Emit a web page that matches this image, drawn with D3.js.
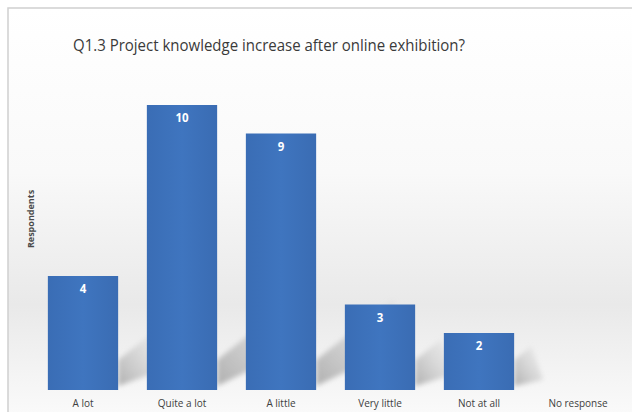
<!DOCTYPE html>
<html>
<head>
<meta charset="utf-8">
<script src="https://cdn.jsdelivr.net/npm/d3@7"></script>
<style>
  body { margin: 0; background: #fff; }
  svg { display: block; }
</style>
</head>
<body>
<svg class="entry-point"></svg>
<script>
/* chart data */
const categories = ['A lot', 'Quite a lot', 'A little', 'Very little', 'Not at all', 'No response']
const counts = [4, 10, 9, 3, 2, 0]
const title = 'Q1.3 Project knowledge increase after online exhibition?'
const yLabel = 'Respondents'

const W = 632, H = 412
const svg = d3.select('.entry-point').attr('width', W).attr('height', H)

const defs = svg.append('defs')
const bg = defs.append('linearGradient').attr('id', 'bg')
  .attr('x1', 0).attr('y1', 0).attr('x2', 0).attr('y2', 1)
bg.append('stop').attr('offset', '0%').attr('stop-color', '#ffffff')
bg.append('stop').attr('offset', '40%').attr('stop-color', '#f9f9f9')
bg.append('stop').attr('offset', '72%').attr('stop-color', '#e9e9e9')
bg.append('stop').attr('offset', '100%').attr('stop-color', '#fbfbfb')

const barGrad = defs.append('linearGradient').attr('id', 'bar')
  .attr('x1', 0).attr('y1', 0).attr('x2', 1).attr('y2', 0)
barGrad.append('stop').attr('offset', '0%').attr('stop-color', '#3a6db5')
barGrad.append('stop').attr('offset', '50%').attr('stop-color', '#3f75bf')
barGrad.append('stop').attr('offset', '100%').attr('stop-color', '#3a6cb3')

const shadowGrad = defs.append('linearGradient').attr('id', 'shadow')
  .attr('x1', 0).attr('y1', 1).attr('x2', 1).attr('y2', 0)
shadowGrad.append('stop').attr('offset', '0%').attr('stop-color', '#a8a8a8').attr('stop-opacity', 0.9)
shadowGrad.append('stop').attr('offset', '100%').attr('stop-color', '#d0d0d0').attr('stop-opacity', 0.1)
defs.append('filter').attr('id', 'blur').append('feGaussianBlur').attr('stdDeviation', 2.5)

// chart frame
svg.append('rect').attr('x', 8).attr('y', 8).attr('width', W).attr('height', H)
  .attr('fill', 'url(#bg)').attr('stroke', '#d0d0d0').attr('stroke-width', 1.5)

const x = d3.scaleBand().domain(categories).range([33.5, 627.5]).paddingInner(0.29).paddingOuter(0.145)
const y = d3.scaleLinear().domain([0, 10]).range([390, 105])

// floor shadows
const sh = svg.append('g').attr('filter', 'url(#blur)')
sh.selectAll('path').data(categories.filter((c, i) => counts[i] > 0)).enter().append('path')
  .attr('fill', 'url(#shadow)')
  .attr('d', c => {
    const v = counts[categories.indexOf(c)]
    const x1 = x(c) + x.bandwidth()
    const len = (y(0) - y(v)) * 0.3
    return `M${x1},${y(0) - 4} L${x1},${y(0) - 30} L${x1 + len},${y(0) - 30 - len * 0.8} L${x1 + len + 12},${y(0) - len * 0.6} Z`
  })

// bars
svg.selectAll('rect.bar').data(categories).enter().append('rect')
  .attr('class', 'bar')
  .attr('x', c => x(c))
  .attr('width', x.bandwidth())
  .attr('y', (c, i) => y(counts[i]))
  .attr('height', (c, i) => y(0) - y(counts[i]))
  .attr('fill', 'url(#bar)')

// value labels
svg.selectAll('text.val').data(categories.filter((c, i) => counts[i] > 0)).enter().append('text')
  .attr('class', 'val')
  .attr('x', c => x(c) + x.bandwidth() / 2)
  .attr('y', c => y(counts[categories.indexOf(c)]) + 17)
  .attr('text-anchor', 'middle')
  .attr('font-family', 'Open Sans, sans-serif')
  .attr('font-size', '11.5px')
  .attr('font-weight', 'bold')
  .attr('fill', '#ffffff')
  .text(c => counts[categories.indexOf(c)])

// category axis
const xAxis = svg.append('g').attr('transform', `translate(0,${y(0)})`)
  .call(d3.axisBottom(x).tickSize(0).tickPadding(10))
xAxis.select('.domain').remove()
xAxis.selectAll('text')
  .attr('font-family', 'Open Sans, sans-serif')
  .attr('font-size', '10px')
  .attr('fill', '#404040')

// title
svg.append('text')
  .attr('x', 269).attr('y', 51)
  .attr('text-anchor', 'middle')
  .attr('font-family', 'Open Sans, sans-serif')
  .attr('font-size', '17px')
  .attr('fill', '#3a3a3a')
  .attr('textLength', 392).attr('lengthAdjust', 'spacingAndGlyphs')
  .text(title)

// y label
svg.append('text')
  .attr('transform', 'translate(34,219) rotate(-90)')
  .attr('text-anchor', 'middle')
  .attr('font-family', 'Open Sans, sans-serif')
  .attr('font-size', '9px')
  .attr('font-weight', 'bold')
  .attr('fill', '#4a4a4a')
  .text(yLabel)
</script>
</body>
</html>
